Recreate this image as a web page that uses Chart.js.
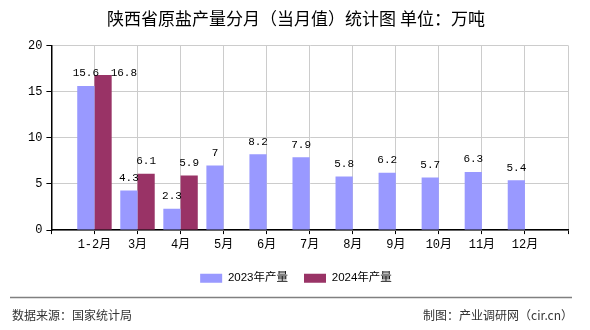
<!DOCTYPE html>
<html>
<head>
<meta charset="utf-8">
<script src="https://cdn.jsdelivr.net/npm/chart.js@4.4.0/dist/chart.umd.min.js"></script>
<style>
  html, body { margin: 0; padding: 0; background: #fff; }
  #wrap { width: 590px; height: 330px; }
</style>
</head>
<body>
<div id="wrap"><canvas id="saltChart" width="590" height="330"></canvas></div>
<script>
const months = ['1-2月', '3月', '4月', '5月', '6月', '7月', '8月', '9月', '10月', '11月', '12月'];
const output2023 = [15.6, 4.3, 2.3, 7, 8.2, 7.9, 5.8, 6.2, 5.7, 6.3, 5.4];
const output2024 = [16.8, 6.1, 5.9, null, null, null, null, null, null, null, null];
const yTicks = [0, 5, 10, 15, 20];

const cjk = '"Noto Sans CJK SC", sans-serif';
const mono = '"Liberation Mono", "Noto Sans CJK SC", monospace';

// empty slot on both ends so the axis runs one category past the first and last month
const labels = [''].concat(months, ['']);
const pad = arr => [null].concat(arr, [null]);

// value labels above bars; if the second one collides with the first, push it to the right
const barValues = {
    id: 'barValues',
    afterDatasetsDraw(chart) {
        const ctx = chart.ctx;
        ctx.save();
        ctx.font = '11px ' + mono;
        ctx.fillStyle = '#000';
        ctx.textBaseline = 'bottom';
        const boxes = {};
        chart.data.datasets.forEach((ds, di) => {
            const meta = chart.getDatasetMeta(di);
            meta.data.forEach((bar, i) => {
                const v = ds.data[i];
                if (v === null || v === undefined) return;
                const text = String(v);
                const w = ctx.measureText(text).width;
                let x = bar.x - w / 2;
                let y = bar.y - 7;
                const prev = boxes[i];
                if (prev && x < prev.x + prev.w && y > prev.y - 12) {
                    x = bar.x + bar.width / 2 - 1;
                    y = prev.y;
                }
                ctx.textAlign = 'left';
                ctx.fillText(text, x, y);
                boxes[i] = { x: x, y: y, w: w };
            });
        });
        ctx.restore();
    }
};

// separator and source lines under the legend
const footer = {
    id: 'footer',
    afterDraw(chart) {
        const ctx = chart.ctx;
        ctx.save();
        ctx.strokeStyle = '#808080';
        ctx.lineWidth = 1.5;
        ctx.beginPath();
        ctx.moveTo(10, 297.5);
        ctx.lineTo(572, 297.5);
        ctx.stroke();
        ctx.font = '12px ' + cjk;
        ctx.fillStyle = '#333';
        ctx.textBaseline = 'middle';
        ctx.textAlign = 'left';
        ctx.fillText('数据来源：国家统计局', 12, 315);
        ctx.textAlign = 'right';
        ctx.fillText('制图：产业调研网（cir.cn）', 573, 315);
        ctx.restore();
    }
};

new Chart(document.getElementById('saltChart'), {
    type: 'bar',
    data: {
        labels: labels,
        datasets: [
            { label: '2023年产量', data: pad(output2023), backgroundColor: '#9999ff' },
            { label: '2024年产量', data: pad(output2024), backgroundColor: '#993366' }
        ]
    },
    options: {
        responsive: false,
        animation: false,
        events: [],
        categoryPercentage: 0.8,
        barPercentage: 1,
        layout: { padding: { left: 24, right: 22, top: 0, bottom: 36 } },
        plugins: {
            title: {
                display: true,
                text: '陕西省原盐产量分月（当月值）统计图 单位：万吨',
                color: '#000',
                font: { family: cjk, size: 17, weight: 'normal' },
                padding: { top: 8, bottom: 17 }
            },
            legend: {
                position: 'bottom',
                labels: {
                    boxWidth: 22,
                    boxHeight: 9,
                    color: '#000',
                    padding: 16,
                    font: { family: '"Liberation Sans", "Noto Sans CJK SC", sans-serif', size: 11.5 }
                }
            },
            tooltip: { enabled: false }
        },
        scales: {
            x: {
                offset: false,
                grid: { offset: false, color: '#cccccc', tickColor: '#000', tickLength: 4 },
                border: { color: '#000', width: 1.5 },
                ticks: { color: '#000', font: { family: mono, size: 12 }, padding: 4, maxRotation: 0, autoSkip: false }
            },
            y: {
                min: 0,
                max: 20,
                afterBuildTicks(scale) { scale.ticks = yTicks.map(v => ({ value: v })); },
                grid: { color: '#cccccc', tickColor: '#000', tickLength: 5 },
                border: { color: '#000', width: 1.5 },
                ticks: { color: '#000', font: { family: mono, size: 12 }, padding: 4 }
            }
        }
    },
    plugins: [barValues, footer]
});
</script>
</body>
</html>
